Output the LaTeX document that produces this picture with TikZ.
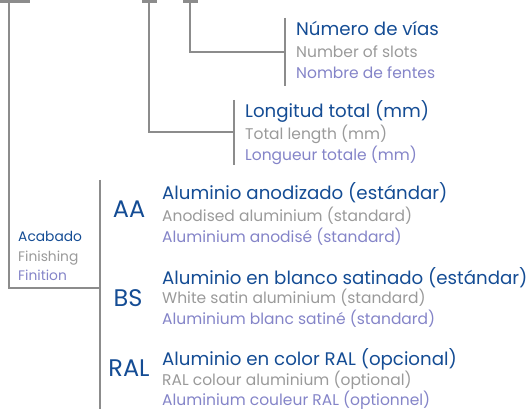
\documentclass[tikz,border=0pt]{standalone}
\usepackage{fontspec}
\setmainfont{Poppins}

\definecolor{Title}{HTML}{144C94}
\definecolor{English}{HTML}{9A9A9A}
\definecolor{French}{HTML}{8484C8}
\definecolor{Bracket}{HTML}{8C8C8C}

\begin{document}
\begin{tikzpicture}[x=1pt, y=-1pt,
  bracket/.style={line width=2.6, color=Bracket},
  es/.style={anchor=base west, inner sep=0, text=Title, font=\fontsize{18.2}{18.2}\selectfont},
  en/.style={anchor=base west, inner sep=0, text=English, font=\fontsize{15.5}{15.5}\selectfont},
  fr/.style={anchor=base west, inner sep=0, text=French, font=\fontsize{15.5}{15.5}\selectfont},
  code/.style={anchor=base, inner sep=0, text=Title, font=\fontsize{24}{24}\selectfont},
  small/.style={font=\fontsize{13.8}{13.8}\selectfont}]

 \useasboundingbox (0,0) rectangle (531,409);

 %%%%%%%%%%%%%%%% TEXTES %%%%%%%%%%%%%%%%%%%%%%
 % Numero de vias
 \node[es] (vias)   at (296,36)  {Número de vías};
 \node[en] (viasEN) at (296,57.5) {Number of slots};
 \node[fr] (viasFR) at (296,79)  {Nombre de fentes};

 % Longitud total
 \node[es] (long)   at (245,118)   {Longitud total (mm)};
 \node[en] (longEN) at (245,139.5) {Total length (mm)};
 \node[fr] (longFR) at (245,160.5) {Longueur totale (mm)};

 % Acabado
 \node[en, small, text=Title] (acab)   at (18,241.7) {Acabado};
 \node[en, small]             (acabEN) at (18,261.7) {Finishing};
 \node[fr, small]             (acabFR) at (18,280)   {Finition};

 % Codes
 \node[code] (AA)  at (129,218)   {AA};
 \node[code] (BS)  at (128,306)   {BS};
 \node[code] (RAL) at (129,376.7) {RAL};

 \node[es] (AAes) at (162,200)   {Aluminio anodizado (estándar)};
 \node[en] (AAen) at (162,221.7) {Anodised aluminium (standard)};
 \node[fr] (AAfr) at (162,242.5) {Aluminium anodisé (standard)};

 \node[es] (BSes) at (162,285)   {Aluminio en blanco satinado (estándar)};
 \node[en] (BSen) at (162,303.5) {White satin aluminium (standard)};
 \node[fr] (BSfr) at (162,324)   {Aluminium blanc satiné (standard)};

 \node[es] (RALes) at (162,365) {Aluminio en color RAL (opcional)};
 \node[en] (RALen) at (162,385) {RAL colour aluminium (optional)};
 \node[fr] (RALfr) at (162,405) {Aluminium couleur RAL (optionnel)};

 %%%%%%%%%% Points pour les crochets %%%%%%%%%%
 \coordinate (0) at (0,1.3);
 \coordinate (1) at (30,1.3);
 \coordinate (2) at (9,1.3);
 \coordinate (3) at (9,288);
 \coordinate (4) at (100,288);
 \coordinate (5) at (100,180);
 \coordinate (6) at (100,409);

 \coordinate (7) at (142,1.3);
 \coordinate (8) at (157,1.3);
 \coordinate (9) at (149,1.3);
 \coordinate (10) at (149,132);
 \coordinate (11) at (234,132);
 \coordinate (12) at (234,100);
 \coordinate (13) at (234,165);

 \coordinate (14) at (183,1.3);
 \coordinate (15) at (198,1.3);
 \coordinate (16) at (190,1.3);
 \coordinate (17) at (190,52);
 \coordinate (18) at (285,52);
 \coordinate (19) at (285,18);
 \coordinate (20) at (285,86);

 % Crochet acabado
 \draw [bracket] (0) -- (1);
 \draw [bracket] (2) -- (3) -- (4);
 \draw [bracket] (5) -- (6);

 % Crochet longitud
 \draw [bracket] (7) -- (8);
 \draw [bracket] (9) -- (10) -- (11);
 \draw [bracket] (12) -- (13);

 % Crochet vias
 \draw [bracket] (14) -- (15);
 \draw [bracket] (16) -- (17) -- (18);
 \draw [bracket] (19) -- (20);

\end{tikzpicture}
\end{document}
